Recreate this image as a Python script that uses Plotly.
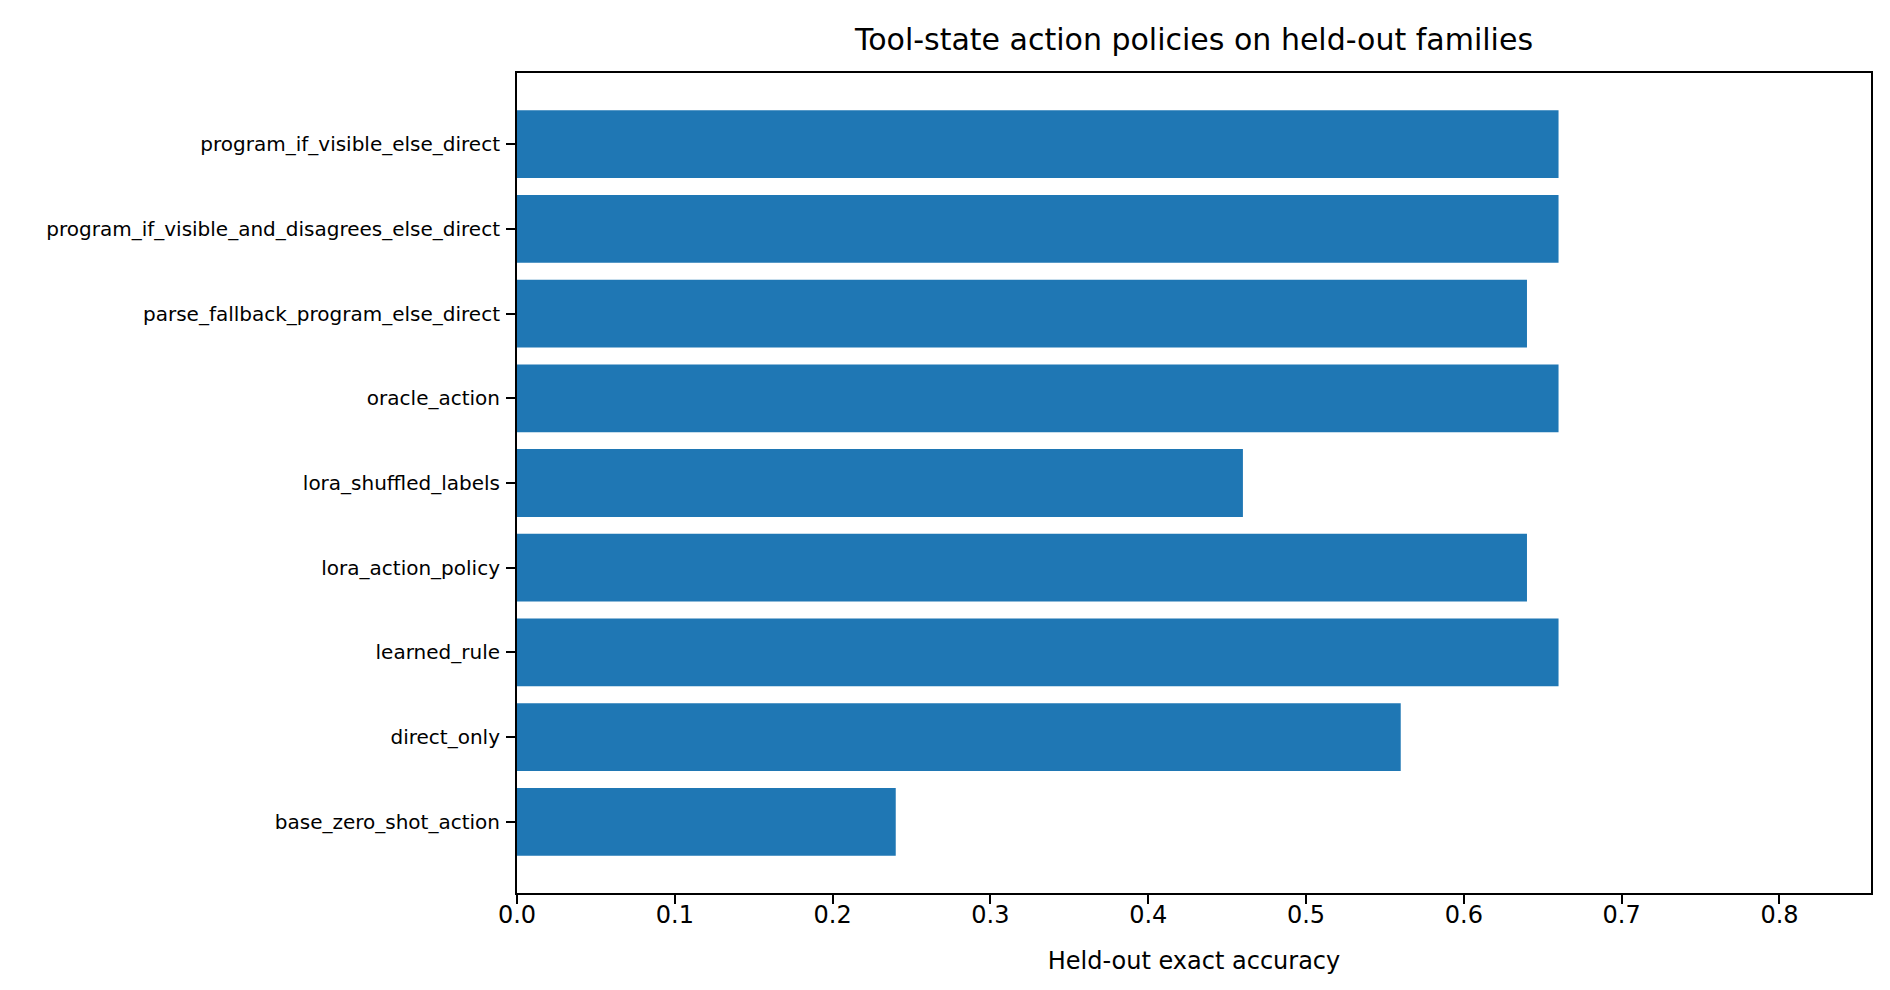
import plotly.graph_objects as go

# policies, bottom to top as drawn
policies = [
    "base_zero_shot_action",
    "direct_only",
    "learned_rule",
    "lora_action_policy",
    "lora_shuffled_labels",
    "oracle_action",
    "parse_fallback_program_else_direct",
    "program_if_visible_and_disagrees_else_direct",
    "program_if_visible_else_direct",
]
accuracy = [0.24, 0.56, 0.66, 0.64, 0.46, 0.66, 0.64, 0.66, 0.66]

x_ticks = [0.0, 0.1, 0.2, 0.3, 0.4, 0.5, 0.6, 0.7, 0.8]

fig = go.Figure()
fig.add_trace(go.Bar(
    x=accuracy,
    y=policies,
    orientation="h",
    width=0.8,
    marker=dict(color="#1f77b4", line=dict(width=0)),
    showlegend=False,
))

fig.update_xaxes(
    range=[0, max(accuracy) * 1.3],
    tickvals=x_ticks,
    ticktext=[f"{v:.1f}" for v in x_ticks],
    ticks="outside", ticklen=9, tickwidth=2, tickcolor="black",
    ticklabelstandoff=-10,
    showline=True, linecolor="black", linewidth=2, mirror=True,
    showgrid=False, zeroline=False,
    tickfont=dict(size=24, color="black"),
    title=dict(text="Held-out exact accuracy", font=dict(size=24, color="black"), standoff=24),
)
fig.update_yaxes(
    type="category",
    range=[-0.84, len(policies) - 1 + 0.84],
    ticks="outside", ticklen=9, tickwidth=2, tickcolor="black",
    ticklabelstandoff=2,
    showline=True, linecolor="black", linewidth=2, mirror=True,
    showgrid=False, zeroline=False,
    tickfont=dict(size=20, color="black"),
)

fig.update_layout(
    width=1890, height=990,
    margin=dict(l=509, r=27, t=65, b=105),
    paper_bgcolor="white", plot_bgcolor="white",
    font=dict(family="DejaVu Sans", color="black"),
    title=dict(text="Tool-state action policies on held-out families",
               x=0.5, xanchor="center", xref="paper",
               y=0.968, yanchor="middle", font=dict(size=30, color="black")),
)

fig.write_html("out.html")
